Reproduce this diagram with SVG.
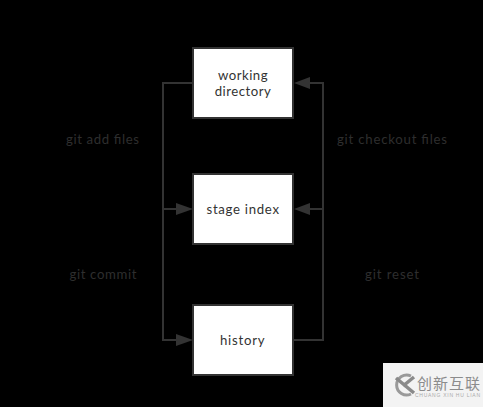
<svg xmlns="http://www.w3.org/2000/svg" width="483" height="407" viewBox="0 0 483 407">
<defs>
<style>
.box{fill:#fff;stroke:#333;stroke-width:2}
.t{font-family:Lato,"Open Sans",sans-serif;font-size:13.200px;fill:#333;text-anchor:middle;letter-spacing:.5px}
.l{font-family:Lato,"Open Sans",sans-serif;font-size:13.200px;fill:#2e2e2e;text-anchor:middle}
.c{fill:none;stroke:#333;stroke-width:2}
.a{fill:#333}
</style>
</defs>
<rect width="483" height="407" fill="#000"/>
<g id="connectors">
<path class="c" d="M193 83H163V340H177"/>
<path class="c" d="M163 209H177"/>
<path class="c" d="M293 340H323V83H309"/>
<path class="c" d="M323 209H309"/>
<polygon class="a" points="193,209 176,203 176,215"/>
<polygon class="a" points="193,340 176,334 176,346"/>
<polygon class="a" points="294,83 310,77 310,89"/>
<polygon class="a" points="294,209 310,203 310,215"/>
</g>
<g id="working-directory"><rect class="box" x="193" y="48" width="100" height="70"/><text class="t"><tspan x="243" y="80">working</tspan><tspan x="243" y="96">directory</tspan></text></g>
<g id="stage-index"><rect class="box" x="193" y="174" width="100" height="70"/><text class="t" x="243" y="214" textLength="73">stage index</text></g>
<g id="history"><rect class="box" x="193" y="305" width="100" height="70"/><text class="t" x="242.500" y="345" textLength="45">history</text></g>
<g id="labels">
<text class="l" x="102.500" y="144" textLength="73">git add files</text>
<text class="l" x="392" y="144" textLength="110">git checkout files</text>
<text class="l" x="103" y="279" textLength="67">git commit</text>
<text class="l" x="392" y="279" textLength="54">git reset</text>
</g>
<g id="watermark">
<rect x="383" y="363" width="100" height="44" fill="#f3f3f3"/>
<path d="M411 376A10 10 0 1 0 411 394" fill="none" stroke="#9a9a9a" stroke-width="3"/>
<path d="M396 378L414 393M414 377L403 386" fill="none" stroke="#8a8a8a" stroke-width="3.500"/>
<text x="417" y="389" font-family="'Noto Sans CJK SC',sans-serif" font-size="15" fill="#8c8c8c" textLength="63">创新互联</text>
<text x="415" y="396.500" font-family="'Liberation Sans',sans-serif" font-size="5" fill="#aaa" textLength="65">CHUANG XIN HU LIAN</text>
</g>
</svg>
